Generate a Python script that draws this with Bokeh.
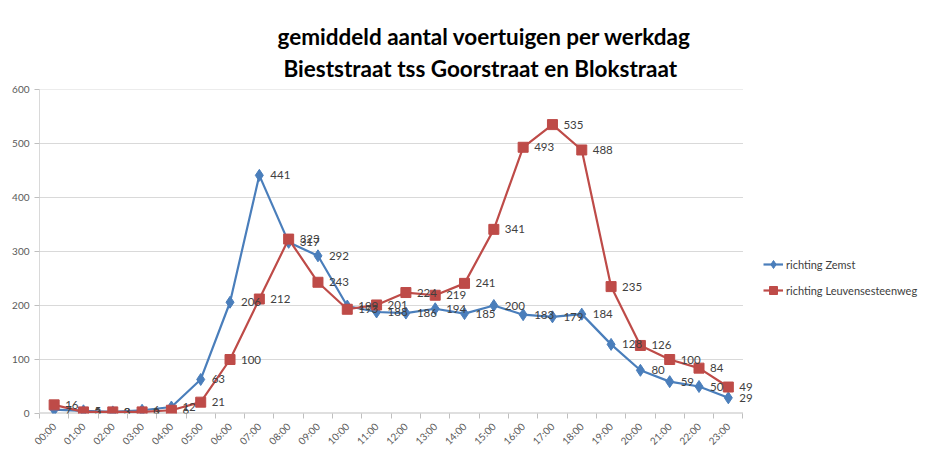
from bokeh.plotting import figure
from bokeh.models import ColumnDataSource, LabelSet, Title, Range1d, FixedTicker, Legend, LegendItem
from bokeh.core.properties import value
from bokeh.embed import file_html
from bokeh.resources import INLINE
import math

hours = ["%02d:00" % h for h in range(24)]
zemst = [7, 5, 3, 6, 12, 63, 206, 441, 317, 292, 199, 188, 186, 194, 185, 200, 183, 179, 184, 128, 80, 59, 50, 29]
leuven = [16, 3, 3, 3, 6, 21, 100, 212, 323, 243, 193, 201, 224, 219, 241, 341, 493, 535, 488, 235, 126, 100, 84, 49]
y_ticks = [0, 100, 200, 300, 400, 500, 600]
title_lines = ["gemiddeld aantal voertuigen per werkdag", "Bieststraat tss Goorstraat en Blokstraat"]

BLUE = "#4A7EBB"
RED = "#BE4B48"
FONT = "Lato"

n = len(hours)
band = 703 / n
x_end = 24.2
frame_w = int(round((x_end + 0.5) * band))

xs = list(range(n))
src = ColumnDataSource(dict(x=xs, z=zemst, l=leuven,
                            zt=[str(v) for v in zemst], lt=[str(v) for v in leuven]))

p = figure(frame_width=frame_w, frame_height=324, output_backend="svg", toolbar_location=None,
           x_range=Range1d(-0.5, x_end), y_range=Range1d(0, 600),
           min_border_left=39, min_border_bottom=40, min_border_top=89, min_border_right=0)
p.outline_line_color = None
p.background_fill_color = "white"
p.border_fill_color = "white"
p.title.visible = False

p.xgrid.visible = False
p.ygrid.visible = False
gy = [v for v in y_ticks if v > 0]
p.segment(x0=[-0.5] * len(gy), x1=[n - 0.5] * len(gy), y0=gy, y1=gy,
          line_color="#D9D9D9", line_width=1)
p.segment(x0=[-0.5], x1=[n - 0.5], y0=[0], y1=[0], line_color="#BFBFBF", line_width=2)

p.xaxis.ticker = FixedTicker(ticks=xs, minor_ticks=[i - 0.5 for i in range(n + 1)])
p.xaxis.major_label_overrides = {i: h for i, h in enumerate(hours)}
p.xaxis.major_label_orientation = math.pi / 4
p.xaxis.major_tick_line_color = None
p.xaxis.minor_tick_line_color = "#BFBFBF"
p.xaxis.minor_tick_out = 5
p.xaxis.minor_tick_in = 0
p.xaxis.axis_line_color = None
p.xaxis.major_label_text_font = FONT
p.xaxis.major_label_text_font_size = "10px"
p.xaxis.major_label_text_color = "#595959"

p.yaxis.ticker = FixedTicker(ticks=y_ticks)
p.yaxis.minor_tick_line_color = None
p.yaxis.major_tick_line_color = "#BFBFBF"
p.yaxis.major_tick_out = 5
p.yaxis.major_tick_in = 0
p.yaxis.axis_line_color = "#D9D9D9"
p.yaxis.major_label_text_font = FONT
p.yaxis.major_label_text_font_size = "10px"
p.yaxis.major_label_text_color = "#595959"

lz = p.line("x", "z", source=src, line_color=BLUE, line_width=2.2)
mz = p.scatter("x", "z", source=src, marker="diamond", size=12, fill_color=BLUE, line_color=BLUE)
ll = p.line("x", "l", source=src, line_color=RED, line_width=2.2)
ml = p.scatter("x", "l", source=src, marker="square", size=10, fill_color=RED, line_color=RED)

for col, txt in (("z", "zt"), ("l", "lt")):
    p.add_layout(LabelSet(x="x", y=col, text=txt, source=src, x_offset=11, y_offset=0,
                          text_baseline="middle", text_font=value(FONT), text_font_size="11.5px",
                          text_color="#404040"))

legend = Legend(items=[LegendItem(label="richting Zemst", renderers=[lz, mz]),
                       LegendItem(label="richting Leuvensesteenweg", renderers=[ll, ml])],
                location=(0, 113), border_line_color=None, background_fill_alpha=0,
                label_text_font=FONT, label_text_font_size="11px", label_text_color="#404040",
                glyph_width=20, label_standoff=3, spacing=6, padding=2, margin=0)
p.add_layout(legend, "right")

# title lines (added bottom line first so it sits closest to the frame)
p.add_layout(Title(text=title_lines[1], align="left", offset=244, standoff=15,
                   text_font=FONT, text_font_size="22.5px", text_font_style="bold",
                   text_color="#000000"), "above")
p.add_layout(Title(text=title_lines[0], align="left", offset=238, standoff=-8,
                   text_font=FONT, text_font_size="22.5px", text_font_style="bold",
                   text_color="#000000"), "above")

open("out.html", "w").write(file_html(p, INLINE))
